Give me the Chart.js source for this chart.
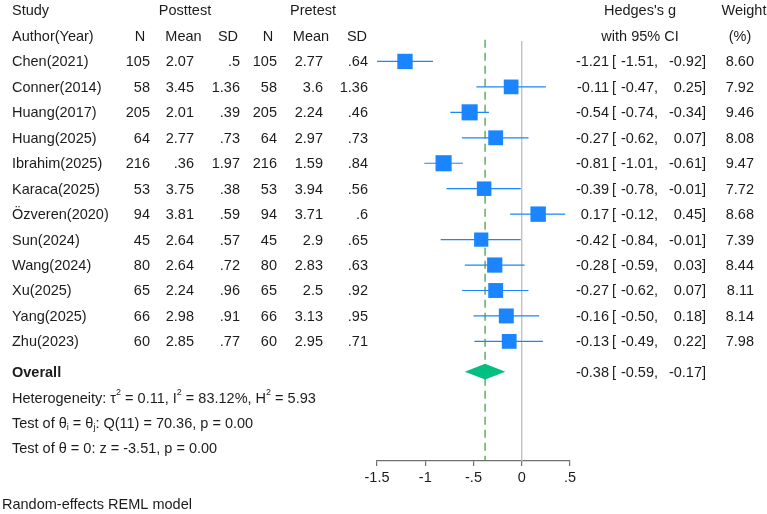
<!DOCTYPE html>
<html>
<head>
<meta charset="utf-8">
<script src="https://cdn.jsdelivr.net/npm/chart.js@4.4.1/dist/chart.umd.min.js"></script>
<style>
  html, body { margin: 0; padding: 0; background: #fff; }
  #wrap { width: 767px; height: 514px; position: relative; }
</style>
</head>
<body>
<div id="wrap"><canvas id="forest"></canvas></div>
<script>
// study table
var studies  = ['Chen(2021)', 'Conner(2014)', 'Huang(2017)', 'Huang(2025)', 'Ibrahim(2025)', 'Karaca(2025)',
                'Özveren(2020)', 'Sun(2024)', 'Wang(2024)', 'Xu(2025)', 'Yang(2025)', 'Zhu(2023)']
var postN    = [105, 58, 205, 64, 216, 53, 94, 45, 80, 65, 66, 60]
var postMean = [2.07, 3.45, 2.01, 2.77, 0.36, 3.75, 3.81, 2.64, 2.64, 2.24, 2.98, 2.85]
var postSD   = [0.5, 1.36, 0.39, 0.73, 1.97, 0.38, 0.59, 0.57, 0.72, 0.96, 0.91, 0.77]
var preN     = [105, 58, 205, 64, 216, 53, 94, 45, 80, 65, 66, 60]
var preMean  = [2.77, 3.6, 2.24, 2.97, 1.59, 3.94, 3.71, 2.9, 2.83, 2.5, 3.13, 2.95]
var preSD    = [0.64, 1.36, 0.46, 0.73, 0.84, 0.56, 0.6, 0.65, 0.63, 0.92, 0.95, 0.71]

// effect sizes
var hedgesG  = [-1.21, -0.11, -0.54, -0.27, -0.81, -0.39, 0.17, -0.42, -0.28, -0.27, -0.16, -0.13]
var ciLow    = [-1.51, -0.47, -0.74, -0.62, -1.01, -0.78, -0.12, -0.84, -0.59, -0.62, -0.50, -0.49]
var ciHigh   = [-0.92, 0.25, -0.34, 0.07, -0.61, -0.01, 0.45, -0.01, 0.03, 0.07, 0.18, 0.22]
var weights  = [8.60, 7.92, 9.46, 8.08, 9.47, 7.72, 8.68, 7.39, 8.44, 8.11, 8.14, 7.98]

var overallG    = -0.38
var overallLow  = -0.59
var overallHigh = -0.17

var xTicks      = [-1.5, -1, -0.5, 0, 0.5]
var xTickLabels = ['-1.5', '-1', '-.5', '0', '.5']

var OVERALL_ROW = 12.19
var FONT = '14.5px "Liberation Sans", Arial, sans-serif'
var BLUE = '#1a85ff'

function stataNum(v) {
    return String(v).replace(/^0\./, '.').replace(/^-0\./, '-.')
}

// CI whiskers, one segment per study, broken by null points
var whiskers = []
for (let i = 0; i < studies.length; i++) {
    whiskers.push({x: ciLow[i], y: i}, {x: ciHigh[i], y: i}, {x: ciHigh[i], y: null})
}
var squares = hedgesG.map((g, i) => ({x: g, y: i}))
var sizes = weights.map(w => 3.7 * Math.sqrt(w))

var dh = 0.31
var diamond = [
    {x: overallLow, y: OVERALL_ROW}, {x: overallG, y: OVERALL_ROW - dh},
    {x: overallHigh, y: OVERALL_ROW}, {x: overallG, y: OVERALL_ROW + dh},
    {x: overallLow, y: OVERALL_ROW}
]

// draws text with small raised/lowered pieces
function richText(ctx, parts, x, y) {
    let cx = x
    parts.forEach(p => {
        let txt = p[0], mode = p[1]
        if (mode === 'sup') {
            ctx.font = '9px "Liberation Sans", Arial, sans-serif'
            ctx.fillText(txt, cx, y - 6)
        } else if (mode === 'sub') {
            ctx.font = '9px "Liberation Sans", Arial, sans-serif'
            ctx.fillText(txt, cx, y + 4)
        } else {
            ctx.font = FONT
            ctx.fillText(txt, cx, y)
        }
        cx += ctx.measureText(txt).width
    })
    ctx.font = FONT
}

var tablePlugin = {
    id: 'tableText',
    afterDraw(chart) {
        const ctx = chart.ctx
        const ys = chart.scales.y
        ctx.save()
        ctx.fillStyle = '#1c1c1c'
        ctx.textBaseline = 'middle'
        ctx.font = FONT

        // headers
        ctx.textAlign = 'left'
        ctx.fillText('Study', 12, 11)
        ctx.fillText('Author(Year)', 12, 37)
        ctx.textAlign = 'center'
        ctx.fillText('Posttest', 185, 11)
        ctx.fillText('Pretest', 313, 11)
        ctx.fillText('N', 140, 37)
        ctx.fillText('Mean', 183.5, 37)
        ctx.fillText('SD', 228, 37)
        ctx.fillText('N', 268, 37)
        ctx.fillText('Mean', 311, 37)
        ctx.fillText('SD', 357, 37)
        ctx.fillText("Hedges's g", 640, 11)
        ctx.fillText('with 95% CI', 640, 37)
        ctx.fillText('Weight', 744, 11)
        ctx.fillText('(%)', 740, 37)

        // rows
        for (let i = 0; i < studies.length; i++) {
            const y = ys.getPixelForValue(i) + 1
            ctx.textAlign = 'left'
            ctx.fillText(studies[i], 12, y)
            ctx.textAlign = 'right'
            ctx.fillText(stataNum(postN[i]), 150, y)
            ctx.fillText(stataNum(postMean[i]), 194, y)
            ctx.fillText(stataNum(postSD[i]), 240, y)
            ctx.fillText(stataNum(preN[i]), 277, y)
            ctx.fillText(stataNum(preMean[i]), 323, y)
            ctx.fillText(stataNum(preSD[i]), 368, y)
            ctx.fillText(hedgesG[i].toFixed(2), 609, y)
            ctx.textAlign = 'left'
            ctx.fillText('[', 612, y)
            ctx.textAlign = 'right'
            ctx.fillText(ciLow[i].toFixed(2) + ',', 658, y)
            ctx.fillText(ciHigh[i].toFixed(2) + ']', 706, y)
            ctx.fillText(weights[i].toFixed(2), 754, y)
        }

        // overall row
        const oy = ys.getPixelForValue(OVERALL_ROW) + 1
        ctx.textAlign = 'left'
        ctx.font = 'bold ' + FONT
        ctx.fillText('Overall', 12, oy)
        ctx.font = FONT
        ctx.textAlign = 'right'
        ctx.fillText(overallG.toFixed(2), 609, oy)
        ctx.textAlign = 'left'
        ctx.fillText('[', 612, oy)
        ctx.textAlign = 'right'
        ctx.fillText(overallLow.toFixed(2) + ',', 658, oy)
        ctx.fillText(overallHigh.toFixed(2) + ']', 706, oy)

        // heterogeneity + tests
        ctx.textAlign = 'left'
        richText(ctx, [['Heterogeneity: \u03C4'], ['2', 'sup'], [' = 0.11, I'], ['2', 'sup'],
                       [' = 83.12%, H'], ['2', 'sup'], [' = 5.93']], 12, 399)
        richText(ctx, [['Test of \u03B8'], ['i', 'sub'], [' = \u03B8'], ['j', 'sub'],
                       [': Q(11) = 70.36, p = 0.00']], 12, 423.5)
        richText(ctx, [['Test of \u03B8 = 0: z = -3.51, p = 0.00']], 12, 448.5)

        ctx.fillText('Random-effects REML model', 2, 505)
        ctx.restore()
    }
}

var ctx = document.getElementById('forest').getContext('2d')
var forest = new Chart(ctx, {
    type: 'scatter',
    data: {
        datasets: [
            {
                // zero line
                type: 'line',
                data: [{x: 0, y: -0.8}, {x: 0, y: 15.7}],
                borderColor: '#bdbdbd',
                borderWidth: 1.3,
                pointRadius: 0,
                order: 5
            },
            {
                // overall effect line
                type: 'line',
                data: [{x: overallG, y: -0.85}, {x: overallG, y: 15.7}],
                borderColor: '#3a9a3a',
                borderWidth: 1.2,
                borderDash: [8, 5],
                pointRadius: 0,
                order: 4
            },
            {
                type: 'line',
                data: whiskers,
                borderColor: BLUE,
                borderWidth: 1.2,
                pointRadius: 0,
                spanGaps: false,
                order: 3
            },
            {
                data: squares,
                pointStyle: 'rect',
                pointRadius: sizes,
                pointHoverRadius: sizes,
                backgroundColor: BLUE,
                borderWidth: 0,
                order: 1
            },
            {
                type: 'line',
                data: diamond,
                borderWidth: 0,
                pointRadius: 0,
                backgroundColor: '#00bf80',
                fill: 'shape',
                order: 2
            }
        ]
    },
    options: {
        responsive: true,
        maintainAspectRatio: false,
        animation: false,
        events: [],
        layout: {padding: {left: 377, right: 197, top: 36, bottom: 0}},
        plugins: {legend: {display: false}, tooltip: {enabled: false}},
        scales: {
            x: {
                type: 'linear',
                min: -1.5,
                max: 0.5,
                afterBuildTicks: axis => { axis.ticks = xTicks.map(v => ({value: v})) },
                afterFit: axis => { axis.height = 53 },
                ticks: {
                    callback: (v) => xTickLabels[xTicks.indexOf(v)],
                    color: '#1c1c1c',
                    font: {family: '"Liberation Sans", Arial, sans-serif', size: 14.5},
                    padding: 3,
                    maxRotation: 0
                },
                grid: {drawOnChartArea: false, drawTicks: true, tickLength: 5, color: '#707070', lineWidth: 1.2},
                border: {display: true, color: '#707070', width: 1.2}
            },
            y: {
                type: 'linear',
                display: false,
                reverse: true,
                min: -1,
                max: 15.7
            }
        }
    },
    plugins: [tablePlugin]
})
</script>
</body>
</html>
